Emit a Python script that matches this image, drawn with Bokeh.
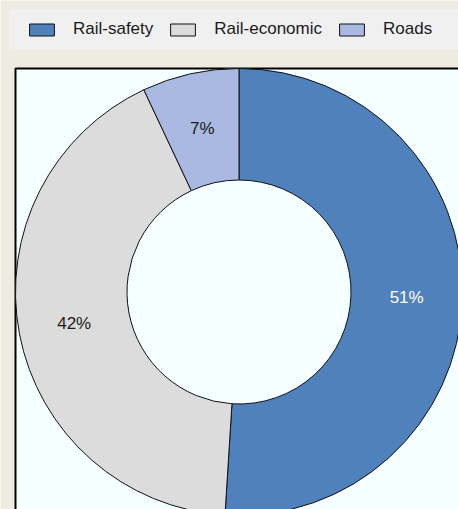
import math
from bokeh.plotting import figure
from bokeh.models import ColumnDataSource, Legend, LegendItem, BoxAnnotation, Range1d
from bokeh.embed import file_html
from bokeh.resources import INLINE
from bokeh.core.properties import value

categories = ["Rail-safety", "Rail-economic", "Roads"]
shares = [51, 42, 7]
colors = ["#4F81BD", "#DCDCDC", "#A9B9E2"]
label_colors = ["#FFFFFF", "#1A1A1A", "#1A1A1A"]

FONT = "Liberation Sans"
R_OUT = 223.5
R_IN = 112.0

total = sum(shares)
starts, ends, mids = [], [], []
cum = 0
for s in shares:
    a0 = math.pi / 2 - 2 * math.pi * cum / total
    cum += s
    a1 = math.pi / 2 - 2 * math.pi * cum / total
    starts.append(a0)
    ends.append(a1)
    mids.append((a0 + a1) / 2)

r_mid = (R_OUT + R_IN) / 2
src = ColumnDataSource(dict(
    cat=categories, share=shares, color=colors,
    start=starts, end=ends,
    lx=[r_mid * math.cos(m) for m in mids],
    ly=[r_mid * math.sin(m) for m in mids],
    label=[f"{s}%" for s in shares],
    lcolor=label_colors,
))

p = figure(width=458, height=509, output_backend="svg", toolbar_location=None,
           x_range=Range1d(-238.5, 219.5), y_range=Range1d(-217.5, 291.5),
           min_border=0, x_axis_location=None, y_axis_location=None)
p.grid.visible = False
p.outline_line_color = None
p.background_fill_color = "#EEEBE1"
p.border_fill_color = "#EEEBE1"

# plot-area panel (background of the chart region)
p.add_layout(BoxAnnotation(left=-223.5, top=223.5, right=260, bottom=-260,
                           fill_color="#F5FFFF", fill_alpha=1.0,
                           line_color="black", line_alpha=1.0, line_width=2,
                           level="underlay"))

r = p.annular_wedge(x=0, y=0, inner_radius=R_IN, outer_radius=R_OUT,
                    start_angle="start", end_angle="end", direction="clock",
                    fill_color="color", line_color="#111111", line_width=1, source=src)

p.text(x="lx", y="ly", text="label", text_color="lcolor", text_align="center",
       text_baseline="middle", text_font=value(FONT), text_font_size="17px", source=src)

legend = Legend(
    items=[LegendItem(label=c, renderers=[r], index=i) for i, c in enumerate(categories)],
    orientation="horizontal", location=(9, 460), padding=10, spacing=14,
    glyph_width=31, glyph_height=15, label_standoff=16, label_width=80, label_height=40,
    label_text_font=FONT, label_text_font_size="17px", label_text_color="#1A1A1A",
    background_fill_color="#F0F0F0", background_fill_alpha=1.0, border_line_color=None,
    title=" ", title_location="left", title_text_font_size="1px", title_standoff=16,
    margin=0,
)
p.add_layout(legend)

open("out.html", "w").write(file_html(p, INLINE))
